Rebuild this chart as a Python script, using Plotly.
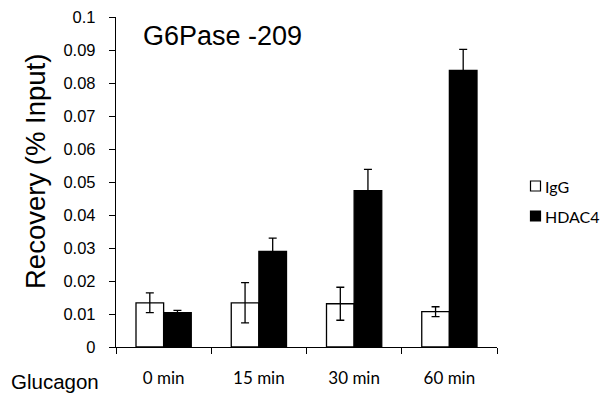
import plotly.graph_objects as go

categories = ["0 min", "15 min", "30 min", "60 min"]
igg = [0.0134, 0.0134, 0.0131, 0.0107]
igg_err = [0.0030, 0.0061, 0.0050, 0.0015]
hdac4 = [0.0104, 0.0290, 0.0474, 0.0838]
hdac4_err = [0.0007, 0.0040, 0.0064, 0.0064]
y_ticks = [0, 0.01, 0.02, 0.03, 0.04, 0.05, 0.06, 0.07, 0.08, 0.09, 0.1]
y_tick_labels = ["0", "0.01", "0.02", "0.03", "0.04", "0.05", "0.06", "0.07", "0.08", "0.09", "0.1"]

W, H = 603, 396
L, R, T, B = 116, 106, 17, 49
PW, PH = W - L - R, H - T - B


def px(x):
    return (x - L) / PW


def py(y):
    return (H - B - y) / PH


fig = go.Figure()
fig.add_trace(go.Bar(
    x=categories, y=igg, name="IgG",
    marker=dict(color="white", line=dict(color="black", width=1.3)),
    error_y=dict(type="data", array=igg_err, visible=True, color="black", thickness=1.3, width=4),
))
fig.add_trace(go.Bar(
    x=categories, y=hdac4, name="HDAC4",
    marker=dict(color="black", line=dict(color="black", width=1.3)),
    error_y=dict(type="data", array=hdac4_err, visible=True, color="black", thickness=1.3, width=4),
))

fig.update_layout(
    width=W, height=H,
    margin=dict(l=L, r=R, t=T, b=B, autoexpand=False),
    plot_bgcolor="white", paper_bgcolor="white",
    barmode="group", bargap=0.42, bargroupgap=0,
    font=dict(family="Liberation Sans, Arial", color="black"),
    showlegend=False,
)
fig.update_xaxes(
    showline=True, linecolor="black", linewidth=1.3,
    ticks="outside", tickson="boundaries", ticklen=6, tickcolor="black", tickwidth=1.3,
    tickfont=dict(family="Lato, sans-serif", size=17),
    showgrid=False, ticklabelstandoff=15, automargin=False,
)
fig.update_yaxes(
    range=[0, 0.1], tickvals=y_ticks, ticktext=y_tick_labels,
    showline=True, linecolor="black", linewidth=1.3,
    ticks="outside", ticklen=6, tickcolor="black", tickwidth=1.3,
    tickfont=dict(size=16.5), showgrid=False, zeroline=False,
    ticklabelstandoff=10, automargin=False,
)

# axis title
fig.add_annotation(text="Recovery (% Input)", xref="paper", yref="paper", x=px(35), y=py(172),
                   xanchor="center", yanchor="middle", textangle=-90, showarrow=False,
                   font=dict(size=27.5, family="Liberation Sans, Arial"))
fig.add_annotation(text="G6Pase -209", xref="paper", yref="paper", x=px(141), y=py(36),
                   xanchor="left", yanchor="middle", showarrow=False,
                   font=dict(size=27, family="Liberation Sans, Arial"))
fig.add_annotation(text="Glucagon", xref="paper", yref="paper", x=px(9), y=py(381),
                   xanchor="left", yanchor="middle", showarrow=False,
                   font=dict(size=20.5, family="Liberation Sans, Arial"))

# legend
legend_items = [("IgG", "white", 186), ("HDAC4", "black", 216)]
for name, color, cy in legend_items:
    fig.add_shape(type="rect", xref="paper", yref="paper",
                  x0=px(530.5), x1=px(540.5), y0=py(cy + 5), y1=py(cy - 5),
                  fillcolor=color, line=dict(color="black", width=1.2))
    fig.add_annotation(text=name, xref="paper", yref="paper", x=px(543), y=py(cy),
                       xanchor="left", yanchor="middle", showarrow=False,
                       font=dict(size=16, family="Lato, sans-serif"))

fig.write_html("out.html", config={"displayModeBar": False},
               post_script="document.body.style.margin='0';document.body.style.overflow='hidden';")
